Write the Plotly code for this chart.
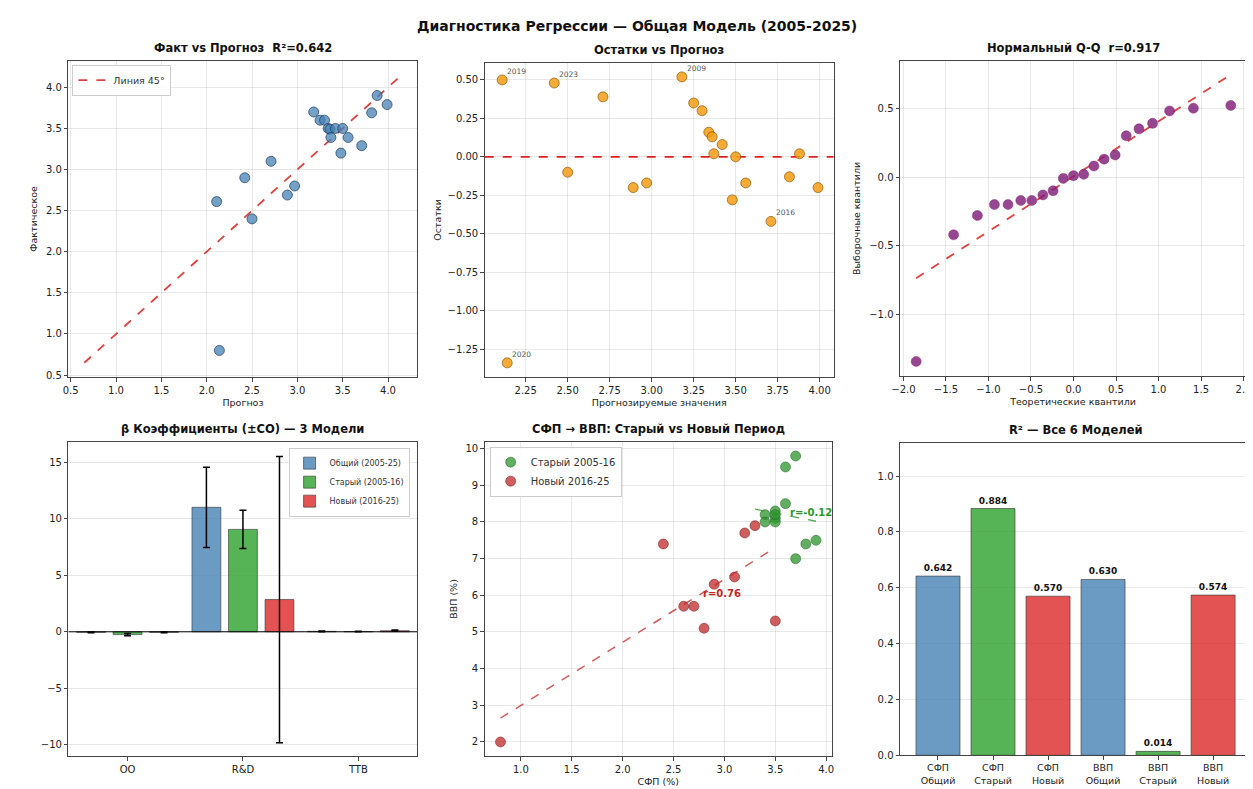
import plotly.graph_objects as go

# ---------------- DATA ----------------
# order of points as read (pred, resid) with labels
pred = [2.11, 2.42, 2.71, 3.18, 3.25, 3.30, 3.34, 3.36, 3.42, 3.37, 3.50,
        3.88, 2.50, 2.89, 2.97, 3.56, 3.48, 3.82, 3.99, 3.71, 2.14]
resid = [0.50, 0.48, 0.39, 0.52, 0.35, 0.30, 0.16, 0.13, 0.08, 0.02, 0.00,
         0.02, -0.10, -0.20, -0.17, -0.17, -0.28, -0.13, -0.20, -0.42, -1.34]
actual = [2.61, 2.90, 3.10, 3.70, 3.60, 3.60, 3.50, 3.49, 3.50, 3.39, 3.50,
          3.90, 2.40, 2.69, 2.80, 3.39, 3.20, 3.69, 3.79, 3.29, 0.80]
labelled = {0: "2019", 1: "2023", 3: "2009", 19: "2016", 20: "2020"}
line45 = [0.65, 4.15]

qq_theory = [-1.85, -1.41, -1.13, -0.93, -0.77, -0.62, -0.49, -0.36, -0.24, -0.12, 0.0,
             0.12, 0.24, 0.36, 0.49, 0.62, 0.77, 0.93, 1.13, 1.41, 1.85]
qq_sample = [-1.34, -0.42, -0.28, -0.20, -0.20, -0.17, -0.17, -0.13, -0.10, -0.01, 0.01,
             0.02, 0.08, 0.13, 0.16, 0.30, 0.35, 0.39, 0.48, 0.50, 0.52]
qq_line_x = [-1.85, 1.85]
qq_line_y = [-0.735, 0.745]

coef_vars = ["OO", "R&D", "TTB"]
coef_models = ["Общий (2005-25)", "Старый (2005-16)", "Новый (2016-25)"]
coef_vals = [[-0.05, 11.0, 0.04], [-0.25, 9.05, 0.02], [-0.05, 2.85, 0.10]]
coef_err = [[0.03, 3.55, 0.03], [0.10, 1.70, 0.02], [0.03, 12.65, 0.05]]

old_tfp = [3.7, 3.6, 3.6, 3.5, 3.4, 3.5, 3.4, 3.5, 3.8, 3.9, 3.7, 3.5]
old_gdp = [9.8, 9.5, 8.5, 8.3, 8.2, 8.1, 8.0, 8.0, 7.4, 7.5, 7.0, 8.2]
new_tfp = [3.3, 3.2, 2.4, 3.1, 2.9, 2.6, 2.7, 2.8, 3.5, 0.8]
new_gdp = [7.9, 7.7, 7.4, 6.5, 6.3, 5.7, 5.7, 5.1, 5.3, 2.0]
old_fit_x = [3.3, 3.9]
old_fit_y = [8.35, 8.02]
new_fit_x = [0.8, 3.5]
new_fit_y = [2.65, 7.3]

r2_labels = ["СФП<br>Общий", "СФП<br>Старый", "СФП<br>Новый",
             "ВВП<br>Общий", "ВВП<br>Старый", "ВВП<br>Новый"]
r2_vals = [0.642, 0.884, 0.570, 0.630, 0.014, 0.574]

# ---------------- STYLE ----------------
W, H = 1253, 789
FONT = "DejaVu Sans"
BLUE = "rgba(70,130,180,0.8)"
GREEN = "rgba(44,160,44,0.8)"
RED = "rgba(220,40,40,0.8)"
bar_cols = [BLUE, GREEN, RED, BLUE, GREEN, RED]


def px_x(a, b):
    return [a / W, b / W]


def px_y(top, bot):
    return [1 - bot / H, 1 - top / H]


doms = {
    1: (px_x(52, 405), px_y(53, 372)),
    2: (px_x(473, 826), px_y(55, 372)),
    3: (px_x(893, 1243), px_y(53, 371)),
    4: (px_x(52, 405), px_y(437, 754)),
    5: (px_x(473, 824), px_y(437, 754)),
    6: (px_x(893, 1248), px_y(438, 753)),
}

fig = go.Figure()

axcommon = dict(showline=True, linecolor="#444", linewidth=1, mirror=True,
                showgrid=True, gridcolor="rgba(0,0,0,0.09)", gridwidth=1,
                ticks="outside", ticklen=3.5, tickcolor="#444",
                tickfont=dict(family=FONT, size=10, color="#222"),
                zeroline=False, title_font=dict(family=FONT, size=9.5, color="#222"))

layout = dict(width=W, height=H, margin=dict(l=0, r=0, t=0, b=0),
              paper_bgcolor="white", plot_bgcolor="white",
              font=dict(family=FONT, color="#222"), showlegend=True)

for i in range(1, 7):
    xs = "xaxis" if i == 1 else f"xaxis{i}"
    ys = "yaxis" if i == 1 else f"yaxis{i}"
    layout[xs] = dict(axcommon, domain=doms[i][0], anchor="y" if i == 1 else f"y{i}")
    layout[ys] = dict(axcommon, domain=doms[i][1], anchor="x" if i == 1 else f"x{i}")

# Panel 1
layout["xaxis"].update(range=[0.475, 4.325], dtick=0.5, tickformat=".1f",
                       title=dict(text="Прогноз", standoff=4))
layout["yaxis"].update(range=[0.475, 4.325], dtick=0.5, tickformat=".1f",
                       title=dict(text="Фактическое", standoff=6))
fig.add_trace(go.Scatter(x=line45, y=line45, mode="lines", name="Линия 45°",
                         line=dict(color="rgba(220,30,30,0.85)", width=1.8, dash="dash"),
                         xaxis="x", yaxis="y", legend="legend"))
fig.add_trace(go.Scatter(x=pred, y=actual, mode="markers", showlegend=False,
                         marker=dict(size=10, color="rgba(70,130,180,0.75)",
                                     line=dict(color="#1f3b5a", width=0.7)),
                         xaxis="x", yaxis="y"))

# Panel 2
layout["xaxis2"].update(range=[2.006, 4.084], dtick=0.25, tickformat=".2f",
                        title=dict(text="Прогнозируемые значения", standoff=4))
layout["yaxis2"].update(range=[-1.433, 0.613], dtick=0.25, tickformat=".2f",
                        title=dict(text="Остатки", standoff=4))
fig.add_trace(go.Scatter(x=[2.006, 4.084], y=[0, 0], mode="lines", showlegend=False,
                         line=dict(color="rgba(220,20,20,0.95)", width=1.8, dash="dash"),
                         xaxis="x2", yaxis="y2"))
fig.add_trace(go.Scatter(x=pred, y=resid, mode="markers", showlegend=False,
                         marker=dict(size=10, color="rgba(243,156,18,0.85)",
                                     line=dict(color="#8a5a10", width=0.7)),
                         xaxis="x2", yaxis="y2"))

# Panel 3
layout["xaxis3"].update(range=[-2.04, 2.03], dtick=0.5, tickformat=".1f",
                        title=dict(text="Теоретические квантили", standoff=4))
layout["yaxis3"].update(range=[-1.447, 0.846], dtick=0.5, tickformat=".1f",
                        title=dict(text="Выборочные квантили", standoff=6))
fig.add_trace(go.Scatter(x=qq_line_x, y=qq_line_y, mode="lines", showlegend=False,
                         line=dict(color="rgba(220,30,30,0.85)", width=1.8, dash="dash"),
                         xaxis="x3", yaxis="y3"))
fig.add_trace(go.Scatter(x=qq_theory, y=qq_sample, mode="markers", showlegend=False,
                         marker=dict(size=10, color="rgba(128,30,120,0.82)",
                                     line=dict(color="rgba(128,30,120,0.9)", width=0.5)),
                         xaxis="x3", yaxis="y3"))

# Panel 4
layout["xaxis4"].update(range=[-0.5125, 2.5125], tickvals=[0, 1, 2], ticktext=coef_vars,
                        showgrid=False)
layout["yaxis4"].update(range=[-11.0, 16.8], dtick=5)
layout["barmode"] = "group"
offsets = [-0.25, 0.0, 0.25]
for k in range(3):
    fig.add_trace(go.Bar(x=[j + offsets[k] for j in range(3)], y=coef_vals[k], width=0.25,
                         name=coef_models[k], marker=dict(color=bar_cols[k],
                                                          line=dict(color="#333", width=0.6)),
                         error_y=dict(type="data", array=coef_err[k], color="black",
                                      thickness=1.5, width=3.5),
                         xaxis="x4", yaxis="y4", legend="legend2", offsetgroup=str(k)))
fig.add_trace(go.Scatter(x=[-0.5125, 2.5125], y=[0, 0], mode="lines", showlegend=False,
                         line=dict(color="black", width=1), xaxis="x4", yaxis="y4"))

# Panel 5
layout["xaxis5"].update(range=[0.645, 4.055], dtick=0.5, tickformat=".1f",
                        title=dict(text="СФП (%)", standoff=4))
layout["yaxis5"].update(range=[1.61, 10.19], dtick=1,
                        title=dict(text="ВВП (%)", standoff=6))
fig.add_trace(go.Scatter(x=old_tfp, y=old_gdp, mode="markers", name="Старый 2005-16",
                         marker=dict(size=10, color="rgba(44,150,44,0.75)",
                                     line=dict(color="#1e5e1e", width=0.5)),
                         xaxis="x5", yaxis="y5", legend="legend3"))
fig.add_trace(go.Scatter(x=new_tfp, y=new_gdp, mode="markers", name="Новый 2016-25",
                         marker=dict(size=10, color="rgba(192,40,40,0.75)",
                                     line=dict(color="#6e1818", width=0.5)),
                         xaxis="x5", yaxis="y5", legend="legend3"))
fig.add_trace(go.Scatter(x=old_fit_x, y=old_fit_y, mode="lines", showlegend=False,
                         line=dict(color="rgba(44,150,44,0.8)", width=1.5, dash="dash"),
                         xaxis="x5", yaxis="y5"))
fig.add_trace(go.Scatter(x=new_fit_x, y=new_fit_y, mode="lines", showlegend=False,
                         line=dict(color="rgba(192,40,40,0.75)", width=1.5, dash="dash"),
                         xaxis="x5", yaxis="y5"))

# Panel 6
layout["xaxis6"].update(range=[-0.69, 5.69], tickvals=list(range(6)), ticktext=r2_labels,
                        showgrid=False, tickfont=dict(family=FONT, size=9.5, color="#222"))
layout["yaxis6"].update(range=[0, 1.12], dtick=0.2, tickformat=".1f")
fig.add_trace(go.Bar(x=list(range(6)), y=r2_vals, width=0.8, showlegend=False,
                     marker=dict(color=bar_cols, line=dict(color="#333", width=0.6)),
                     text=[f"<b>{v:.3f}</b>" for v in r2_vals], textposition="outside",
                     textfont=dict(family=FONT, size=9, color="#111"),
                     cliponaxis=False, xaxis="x6", yaxis="y6"))

# Legends
layout["legend"] = dict(x=56 / W, y=1 - 57 / H, xanchor="left", yanchor="top",
                        bgcolor="rgba(255,255,255,0.9)", bordercolor="#ccc", borderwidth=1,
                        font=dict(family=FONT, size=9.5, color="#333"), itemwidth=30)
layout["legend2"] = dict(x=397 / W, y=1 - 443 / H, xanchor="right", yanchor="top",
                         bgcolor="rgba(255,255,255,0.9)", bordercolor="#ccc", borderwidth=1,
                         font=dict(family=FONT, size=8, color="#333"), tracegroupgap=0,
                         itemwidth=30)
layout["legend3"] = dict(x=478 / W, y=1 - 442 / H, xanchor="left", yanchor="top",
                         bgcolor="rgba(255,255,255,0.9)", bordercolor="#ccc", borderwidth=1,
                         font=dict(family=FONT, size=10, color="#333"), itemwidth=30)

fig.update_layout(**layout)

# Annotations: titles
ann = []
ann.append(dict(text="<b>Диагностика Регрессии — Общая Модель (2005-2025)</b>",
                x=0.5, y=1 - 18 / H, xref="paper", yref="paper", showarrow=False,
                font=dict(family=FONT, size=14, color="#111"), xanchor="center", yanchor="middle"))
titles = {1: "Факт vs Прогноз  R²=0.642", 2: "Остатки vs Прогноз", 3: "Нормальный Q-Q  r=0.917",
          4: "β Коэффициенты (±СО) — 3 Модели", 5: "СФП → ВВП: Старый vs Новый Период",
          6: "R² — Все 6 Моделей"}
for i, t in titles.items():
    xd, yd = doms[i]
    ann.append(dict(text=f"<b>{t}</b>", x=(xd[0] + xd[1]) / 2, y=yd[1] + 4 / H,
                    xref="paper", yref="paper", showarrow=False, xanchor="center",
                    yanchor="bottom", font=dict(family=FONT, size=11.5, color="#111")))
for idx, lab in labelled.items():
    ann.append(dict(text=lab, x=pred[idx], y=resid[idx], xref="x2", yref="y2",
                    showarrow=False, xanchor="left", yanchor="bottom", xshift=3, yshift=2,
                    font=dict(family=FONT, size=7.5, color="#555")))
ann.append(dict(text="<b>r=-0.12</b>", x=3.62, y=8.25, xref="x5", yref="y5", showarrow=False,
                xanchor="left", yanchor="middle", font=dict(family=FONT, size=10, color="#2c962c")))
ann.append(dict(text="<b>r=0.76</b>", x=2.77, y=6.05, xref="x5", yref="y5", showarrow=False,
                xanchor="left", yanchor="middle", font=dict(family=FONT, size=10, color="#c02828")))
fig.update_layout(annotations=ann)

fig.write_html("out.html")
